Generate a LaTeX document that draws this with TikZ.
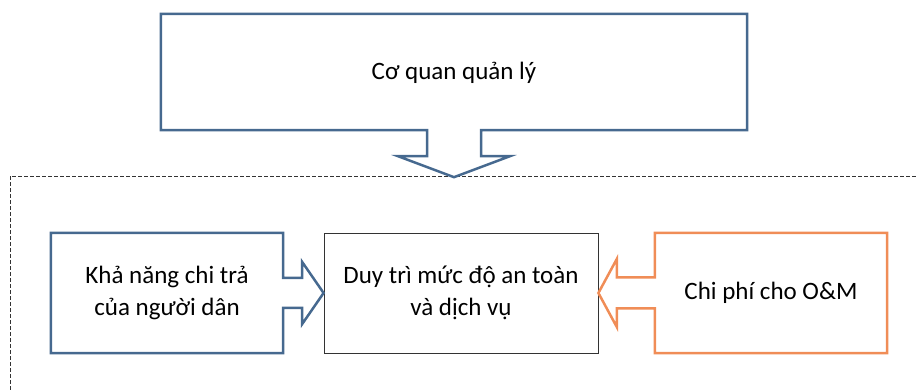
\documentclass[tikz,border=0pt]{standalone}
\usepackage{fontspec}
\setmainfont{Carlito}
\usepackage{xcolor}
\usetikzlibrary{calc}
\definecolor{calloutblue}{HTML}{46698F}
\definecolor{calloutorange}{HTML}{F08D57}
\tikzset{
	blue_callout/.style = {draw=calloutblue, line width=2.5pt, line join=miter},
	orange_callout/.style = {draw=calloutorange, line width=2.5pt, line join=miter},
	frame/.style = {draw=black!80, dashed, line width=0.8pt, dash pattern=on 3.5pt off 2.5pt}
}

\begin{document}
\begin{tikzpicture}[
    x=1pt, y=1pt,
    font=\fontsize{25}{32}\selectfont,
    text_style/.style={
        align=center,
        inner sep=0pt,
        text=black
        },
    side_style/.style={
        text_style,
        minimum width=232,
        minimum height=120
        },
    goal_style/.style={
        text_style,
        draw=black!80,
        line width=0.8pt,
        minimum width=274,
        minimum height=120
        }]

    \useasboundingbox (0,0) rectangle (916,390);

    % nodes
    \node[text_style, minimum width=586, minimum height=114] (coquan) at (454,317) {Cơ quan quản lý};
    \node[side_style](khanang) at (167,97) {Khả năng chi trả\\của người dân};
    \node[goal_style](duytri) at (461,97) {Duy trì mức độ an toàn\\và dịch vụ};
    \node[side_style](chiphi) at (771,97) {Chi phí cho O\&M};

    % dashed frame of the lower part
    \draw[frame] (10,0) -- (10,214) -- (916,214);

    % callout pointing down
    \draw[blue_callout] ($(coquan.north west)+(0,2)$) -- ($(coquan.north east)+(0,2)$) -- (coquan.south east)
        -- ($(coquan.south)+(27,0)$) -- ++(0,-26) -- ++(29,0) -- ($(coquan.south)+(0,-47)$)
        -- ++(-56,21) -- ++(29,0) -- ++(0,26) -- (coquan.south west) -- cycle;

    % callout pointing right
    \draw[blue_callout] (khanang.north west) -- (khanang.north east)
        -- ($(khanang.east)+(0,15)$) -- ++(19,0) -- ++(0,16) -- (duytri.west)
        -- ($(khanang.east)+(19,-31)$) -- ++(0,16) -- ++(-19,0)
        -- (khanang.south east) -- (khanang.south west) -- cycle;

    % callout pointing left
    \draw[orange_callout] (chiphi.north east) -- (chiphi.north west)
        -- ($(chiphi.west)+(0,15.5)$) -- ++(-38,0) -- ++(0,18.5) -- (duytri.east)
        -- ($(chiphi.west)+(-38,-34)$) -- ++(0,18.5) -- ++(38,0)
        -- (chiphi.south west) -- (chiphi.south east) -- cycle;
\end{tikzpicture}
\end{document}
